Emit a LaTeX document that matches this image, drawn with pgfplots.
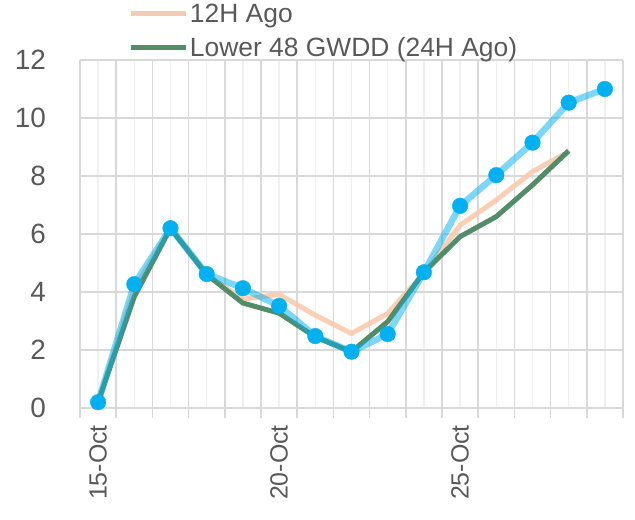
\documentclass[border=0pt]{standalone}
\usepackage{pgfplots}
\pgfplotsset{compat=1.18}
\usepackage{fontspec}
\setmainfont{Liberation Sans}
\definecolor{txt}{HTML}{595959}
\definecolor{gridmaj}{HTML}{D9D9D9}
\definecolor{gridmin}{HTML}{F0F0F0}
\definecolor{blu}{HTML}{00B0F0}
\definecolor{grn}{HTML}{528C68}
\definecolor{org}{HTML}{F8CBAD}
\begin{document}
\begin{tikzpicture}
\begin{axis}[name=ax, scale only axis, width=543bp, height=348bp,
 xmin=14.5, xmax=29.5, ymin=0, ymax=12, clip=false,
 xtick={15,...,29}, xticklabels={15-Oct,,,,,20-Oct,,,,,25-Oct,,,,},
 minor xtick={14.5,15.5,...,29.5},
 ytick={0,2,...,12},
 xmajorgrids, xminorgrids, ymajorgrids,
 major x grid style={gridmin, line width=1.3bp},
 minor x grid style={gridmaj, line width=1.5bp},
 y grid style={gridmaj, line width=1.5bp},
 axis line style={draw=none},
 tick align=outside, xtick pos=bottom, ytick pos=left,
 major tick length=0pt, minor tick length=10bp,
 minor tick style={gridmaj, line width=1.5bp},
 ytick style={draw=none},
 /pgf/number format/assume math mode=true,
 yticklabel style={font=\fontsize{28}{32}\selectfont, text=txt, inner sep=0pt, anchor=east, xshift=-34bp},
 xticklabel style={font=\fontsize{25}{30}\selectfont, text=txt, inner sep=0pt, yshift=-17bp, rotate=90, anchor=east},
 legend style={at={(rel axis cs:0,1)}, anchor=south west, xshift=48bp, yshift=0bp,
   draw=none, fill=none, inner sep=0pt, outer sep=0pt,
   font=\fontsize{26.5}{31}\selectfont, text=txt, row sep=9.5bp},
 legend cell align=left,
 legend image code/.code={\draw[#1, line width=5bp, opacity=1] (0bp,0bp) -- (55bp,0bp);},
 /tikz/every even column/.append style={column sep=3bp},
]
\addplot[org, line width=5bp, opacity=0.9] coordinates {
(15,0.2) (16,4.1) (17,6.2) (18,4.6) (19,3.75) (20,3.92) (21,3.2) (22,2.57)
(23,3.26) (24,4.65) (25,6.3) (26,7.17) (27,8.15) (28,8.84)};
\addlegendentry{12H Ago}
\addplot[grn, line width=5bp] coordinates {
(15,0.2) (16,3.84) (17,6.2) (18,4.6) (19,3.62) (20,3.27) (21,2.45) (22,1.94)
(23,2.98) (24,4.68) (25,5.91) (26,6.6) (27,7.69) (28,8.87)};
\addlegendentry{Lower 48 GWDD (24H Ago)}
\addplot[blu, line width=6.5bp, opacity=0.5, forget plot] coordinates {
(15,0.2) (16,4.27) (17,6.2) (18,4.62) (19,4.13) (20,3.52) (21,2.48) (22,1.94)
(23,2.55) (24,4.68) (25,6.97) (26,8.03) (27,9.15) (28,10.53) (29,11.0)};
\addplot[only marks, mark=*, mark size=7.8bp, blu, mark options={draw=blu, fill=blu}, forget plot] coordinates {
(15,0.2) (16,4.27) (17,6.2) (18,4.62) (19,4.13) (20,3.52) (21,2.48) (22,1.94)
(23,2.55) (24,4.68) (25,6.97) (26,8.03) (27,9.15) (28,10.53) (29,11.0)};
\end{axis}
\pgfresetboundingbox
\path[use as bounding box] ([shift={(-80bp,-112bp)}]ax.south west) rectangle ([shift={(12bp,60bp)}]ax.north east);
\end{tikzpicture}
\end{document}
